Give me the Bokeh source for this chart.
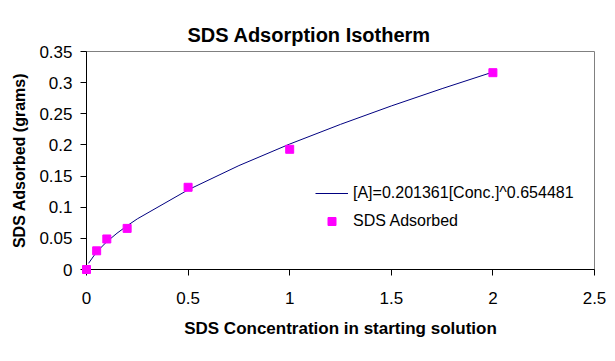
from bokeh.plotting import figure
from bokeh.models import Range1d, FixedTicker, Legend, LegendItem
from bokeh.embed import file_html
from bokeh.resources import INLINE

# data
conc = [0.0, 0.05, 0.1, 0.2, 0.5, 1.0, 2.0]
adsorbed = [0.0, 0.030, 0.049, 0.066, 0.132, 0.193, 0.316]

trend_x = [0.01, 0.05, 0.1, 0.15, 0.2, 0.25, 0.5, 0.75, 1.0, 1.25, 1.5, 1.75, 2.0]
trend_y = [0.0099, 0.0283, 0.0446, 0.0582, 0.0702, 0.0813, 0.1279, 0.1668, 0.2014, 0.2330, 0.2626, 0.2904, 0.3170]

x_ticks = [0, 0.5, 1, 1.5, 2, 2.5]
x_tick_labels = ["0", "0.5", "1", "1.5", "2", "2.5"]
y_ticks = [0, 0.05, 0.1, 0.15, 0.2, 0.25, 0.3, 0.35]
y_tick_labels = ["0", "0.05", "0.1", "0.15", "0.2", "0.25", "0.3", "0.35"]

title_text = "SDS Adsorption Isotherm"
x_label = "SDS Concentration in starting solution"
y_label = "SDS Adsorbed (grams)"
trend_label = "[A]=0.201361[Conc.]^0.654481"
series_label = "SDS Adsorbed"

FONT = "Liberation Sans"

p = figure(width=607, height=353, output_backend="svg", toolbar_location=None,
           x_range=Range1d(0, 2.5), y_range=Range1d(0, 0.35),
           min_border_left=86, min_border_right=13, min_border_top=51, min_border_bottom=84)

p.title.text = title_text
p.title.text_font = FONT
p.title.text_font_size = "20px"
p.title.text_font_style = "bold"
p.title.text_color = "black"
p.title.align = "left"
p.title.offset = 101
p.title.standoff = 12

p.grid.visible = False
p.background_fill_color = "white"
p.border_fill_color = "white"
p.outline_line_color = "#808080"
p.outline_line_width = 1

for ax in (p.xaxis[0], p.yaxis[0]):
    ax.axis_line_color = "black"
    ax.major_tick_line_color = "black"
    ax.major_tick_in = 0
    ax.major_tick_out = 6
    ax.minor_tick_line_color = None
    ax.major_label_text_font = FONT
    ax.major_label_text_font_size = "17px"
    ax.major_label_text_color = "black"
    ax.axis_label_text_font = FONT
    ax.axis_label_text_font_style = "bold"
    ax.axis_label_text_color = "black"

p.xaxis.ticker = FixedTicker(ticks=x_ticks)
p.xaxis.major_label_overrides = dict(zip(x_ticks, x_tick_labels))
p.yaxis.ticker = FixedTicker(ticks=y_ticks)
p.yaxis.major_label_overrides = dict(zip(y_ticks, y_tick_labels))

p.xaxis.axis_label = x_label
p.xaxis.axis_label_text_font_size = "17px"
p.xaxis.major_label_standoff = 16
p.xaxis.axis_label_standoff = 12

p.yaxis.axis_label = y_label
p.yaxis.axis_label_text_font_size = "16px"
p.yaxis.major_label_standoff = 8
p.yaxis.axis_label_standoff = 8

line_r = p.line(trend_x, trend_y, line_color="#000080", line_width=1)
pts_r = p.scatter(conc, adsorbed, marker="square", size=8,
                  fill_color="#FF00FF", line_color="#FF00FF", level="overlay")

legend = Legend(items=[LegendItem(label=trend_label, renderers=[line_r]),
                       LegendItem(label=series_label, renderers=[pts_r])],
                location=(229, 38))
legend.label_text_font = FONT
legend.label_text_font_size = "16px"
legend.label_text_color = "black"
legend.glyph_width = 33
legend.glyph_height = 20
legend.label_height = 20
legend.label_standoff = 5
legend.spacing = 8
legend.padding = 0
legend.margin = 0
legend.border_line_color = None
legend.background_fill_alpha = 0
p.add_layout(legend)

open("out.html", "w").write(file_html(p, INLINE))
